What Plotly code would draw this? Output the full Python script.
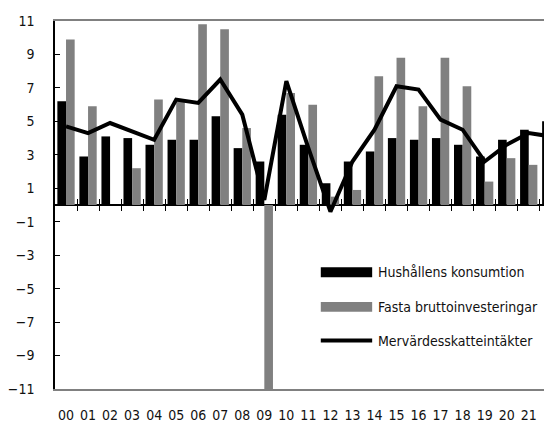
import plotly.graph_objects as go

years = ["00","01","02","03","04","05","06","07","08","09","10","11",
         "12","13","14","15","16","17","18","19","20","21","22"]
hushall = [6.2, 2.9, 4.1, 4.0, 3.6, 3.9, 3.9, 5.3, 3.4, 2.6, 5.4, 3.6,
           1.3, 2.6, 3.2, 4.0, 3.9, 4.0, 3.6, 2.9, 3.9, 4.5, 5.0]
fasta = [9.9, 5.9, 0.0, 2.2, 6.3, 6.2, 10.8, 10.5, 4.6, -12.0, 6.7, 6.0,
         0.5, 0.9, 7.7, 8.8, 5.9, 8.8, 7.1, 1.4, 2.8, 2.4, 2.5]
moms = [4.7, 4.3, 4.9, 4.4, 3.9, 6.3, 6.1, 7.5, 5.4, 0.3, 7.4, 3.4,
        -0.4, 2.6, 4.5, 7.1, 6.9, 5.1, 4.5, 2.6, 3.6, 4.3, 4.1]
ytick_vals = [11, 9, 7, 5, 3, 1, -1, -3, -5, -7, -9, -11]
names = ["Hushållens konsumtion", "Fasta bruttoinvesteringar", "Mervärdesskatteintäkter"]

FONT = "DejaVu Sans Condensed, DejaVu Sans, sans-serif"
FS = 14
OFF = 8  # default page body margin
W, H = 552 - OFF, 423 - OFF
ML, MR, MT, MB = 49 - OFF, 0, 21 - OFF, 423 - 393

x = list(range(len(years)))

fig = go.Figure()
fig.add_trace(go.Bar(x=x, y=hushall, name=names[0], marker_color="#000000",
                     marker_line_width=0, showlegend=False))
fig.add_trace(go.Bar(x=x, y=fasta, name=names[1], marker_color="#808080",
                     marker_line_width=0, showlegend=False))
fig.add_trace(go.Scatter(x=x, y=moms, name=names[2], mode="lines",
                         line=dict(color="#000000", width=4), showlegend=False))

# invisible traces to drive the extra axes at zero
fig.add_trace(go.Scatter(x=[0], y=[0], xaxis="x2", mode="markers",
                         marker=dict(opacity=0), showlegend=False, hoverinfo="skip"))
fig.add_trace(go.Scatter(x=[0], y=[0], xaxis="x3", mode="markers",
                         marker=dict(opacity=0), showlegend=False, hoverinfo="skip"))

xr = [-0.5, -0.5 + (W - ML - MR) / 22.3]
bounds = [i + 0.5 for i in range(len(years))]

fnt = dict(family=FONT, size=FS, color="#111111")

fig.update_layout(
    width=W, height=H,
    margin=dict(l=ML, r=MR, t=MT, b=MB, pad=0),
    paper_bgcolor="white", plot_bgcolor="white",
    barmode="group", bargap=0.215, bargroupgap=0,
    font=fnt,
    xaxis=dict(range=xr, tickmode="array", tickvals=x, ticktext=years,
               showgrid=False, zeroline=False, ticks="", showline=True,
               linecolor="#808080", linewidth=1.5, mirror=True,
               ticklabelstandoff=12, tickfont=fnt),
    xaxis2=dict(overlaying="x", matches="x", anchor="free", position=0.5,
                tickmode="array", tickvals=bounds, showticklabels=False,
                ticks="outside", ticklen=5, tickwidth=1.2, tickcolor="#000",
                showline=False, showgrid=False, zeroline=False),
    xaxis3=dict(overlaying="x", matches="x", anchor="free", position=0.5,
                tickmode="array", tickvals=bounds, showticklabels=False,
                ticks="inside", ticklen=6, tickwidth=1.2, tickcolor="#000",
                showline=False, showgrid=False, zeroline=False),
    yaxis=dict(range=[-11, 11], tickmode="array", tickvals=ytick_vals,
               showgrid=False, zeroline=True, zerolinecolor="#000000",
               zerolinewidth=1.5, showline=True, linecolor="#000000",
               linewidth=1.5, ticks="inside", ticklen=5, tickcolor="#000",
               ticklabelstandoff=16, tickfont=fnt),
)

# manual legend (page pixel -> paper helpers)
def px(v):
    return (v - OFF - ML) / (W - ML - MR)

def py(v):
    return (H - MB - (v - OFF)) / (H - MT - MB)

leg_rows = [275, 310, 344]
shapes = [
    dict(type="rect", xref="paper", yref="paper", x0=px(318), x1=px(370),
         y0=py(280), y1=py(270), fillcolor="#000000", line_width=0),
    dict(type="rect", xref="paper", yref="paper", x0=px(318), x1=px(370),
         y0=py(315), y1=py(305), fillcolor="#808080", line_width=0),
    dict(type="line", xref="paper", yref="paper", x0=px(318), x1=px(370),
         y0=py(344), y1=py(344), line=dict(color="#000000", width=4)),
]
fig.update_layout(shapes=shapes)
for name, ry in zip(names, leg_rows):
    fig.add_annotation(xref="paper", yref="paper", x=px(374), y=py(ry),
                       text=name, showarrow=False, xanchor="left", yanchor="middle",
                       font=fnt)

fig.write_html("out.html")
